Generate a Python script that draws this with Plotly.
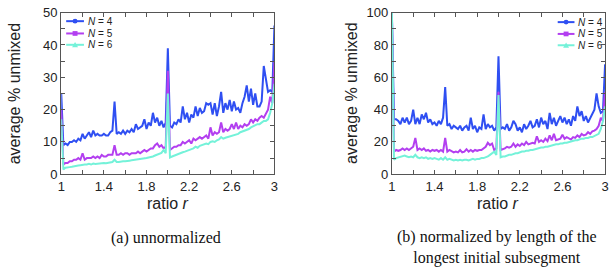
import plotly.graph_objects as go

# ---------------- data ----------------
RATIO = [round(1 + 0.02 * i, 2) for i in range(101)]

# (a) unnormalized
A_N4 = [25, 9, 9.5, 9, 10, 10, 10.5, 10, 11, 10.5,
        12.5, 11, 12, 13, 11.5, 13.5, 12, 12.5, 12, 12,
        12.5, 12, 12, 13, 13.5, 22.5, 12.5, 13, 12.5, 13.5,
        12.5, 13.5, 13, 14, 13, 15.5, 14, 14.5, 15, 17,
        14, 16, 15, 19, 16, 17.5, 15, 16.5, 14.5, 16,
        39, 15, 14.5, 16, 15.5, 17, 16, 21, 17, 19,
        16, 18.5, 17.5, 21, 18, 20.5, 19, 19.5, 22, 21.5,
        22, 18.5, 22, 18, 21, 25.5, 19, 22, 20, 23,
        19.5, 22.5, 20, 20.5, 19, 22, 24, 27.5, 22.5, 26.5,
        21.5, 25, 21, 21, 22.5, 33.5, 30, 25.5, 26, 25.5,
        46]
A_N5 = [20, 3, 3.5, 3.5, 4, 4, 4.5, 4.5, 5, 4.5,
        6.5, 4.5, 5, 5, 5, 5.5, 5, 5.5, 5, 6,
        5.5, 5.5, 6, 6, 6, 9, 6, 6, 6.5, 6,
        6.5, 6.5, 6, 6.5, 6.5, 6.5, 7, 6.5, 7, 7.5,
        7, 7.5, 8, 8, 9, 9.5, 8.5, 9, 8, 8.5,
        32, 7.5, 8, 8.5, 8.5, 9, 9, 10, 9.5, 10,
        10.5, 9.5, 11, 10.5, 11, 11.5, 11, 11.5, 12, 11,
        14.5, 12, 13, 12.5, 13, 16, 13, 14, 13.5, 14,
        15.5, 14, 16, 14, 15, 14.5, 15.5, 15, 15.5, 17,
        16, 17, 16.5, 17.5, 18, 17.5, 19, 20, 24, 22,
        35]
A_N6 = [17, 1.5, 2, 2, 2.2, 2.3, 2.5, 2.5, 2.7, 2.8,
        3, 3, 3, 3.2, 3, 3.3, 3.2, 3.3, 3.4, 3.5,
        3.5, 3.4, 3.6, 3.7, 3.8, 4.5, 3.8, 3.8, 4, 4,
        4, 4.2, 4.2, 4.3, 4.4, 4.3, 4.5, 4.6, 4.7, 4.8,
        5, 5.2, 5.3, 5.5, 5.8, 6, 6.2, 6.6, 7.5, 6.5,
        25, 5.2, 5.5, 5.8, 6, 6.2, 6.5, 6.8, 7, 7.2,
        7.5, 7.8, 8, 8.5, 8.2, 8.8, 9, 9.2, 9.5, 9.3,
        10, 10.2, 10, 10.5, 10.8, 11.5, 11, 11.3, 11.5, 11.8,
        12, 12.3, 12.5, 12.5, 13, 13.2, 13.5, 13.8, 14, 14.5,
        14.8, 15, 15.5, 15.5, 16, 16.5, 16.5, 17, 19, 22,
        28]

# (b) normalized by length of the longest initial subsegment
B_N4 = [100, 34, 34, 33, 31, 35, 32, 35, 31, 33,
        40, 31, 35, 31, 37, 34, 38, 32, 34, 31,
        32, 30, 33, 31, 35, 54, 30, 31, 28, 30,
        29, 28, 30, 27, 29, 30, 27, 35, 28, 30,
        26, 29, 28, 37, 28, 31, 29, 30, 27, 29,
        73, 28, 29, 28, 31, 27, 29, 33, 31, 27,
        29, 26, 31, 28, 30, 33, 29, 30, 34, 29,
        35, 31, 33, 28, 38, 31, 35, 30, 33, 36,
        32, 35, 31, 34, 30, 36, 33, 42, 36, 39,
        33, 36, 32, 35, 38, 40, 50, 42, 38, 39,
        68]
B_N5 = [100, 14, 15, 14.5, 15, 16, 15, 16, 15, 16,
        17, 22.5, 15, 16, 15, 16, 14.5, 15, 14, 15,
        14.5, 15, 14, 15, 14, 22.5, 14, 15, 14, 13.5,
        14, 13.5, 15, 13.5, 14, 15.5, 14, 15, 14, 15,
        14.5, 15, 15, 16, 17, 19.5, 18, 19, 15, 16,
        51, 15, 15.5, 16, 17, 16.5, 17, 19, 17, 18.5,
        17.5, 19, 18, 20, 18.5, 19, 19.5, 19, 23.5, 20,
        21, 20, 22, 20.5, 24, 21, 25, 21, 21.5, 22,
        24.5, 22, 23, 22, 21.5, 23, 22.5, 24, 23, 25,
        24, 24.5, 26, 25, 26.5, 27, 28, 30, 35, 33,
        51]
B_N6 = [100, 9, 10, 10.5, 11, 11, 11.5, 11, 10.5, 11,
        10.5, 12, 10.5, 10, 10.5, 10, 10.5, 9.5, 10, 9.5,
        10, 9.5, 9, 10, 9, 10.5, 9, 9.5, 9, 8.5,
        9, 8.5, 9, 8.5, 9, 9, 8.5, 9, 9.5, 9,
        9.5, 9.5, 10, 10, 10.5, 11, 12, 13, 14, 12,
        49, 10.5, 11, 11, 11.5, 12, 12, 12.5, 13, 13,
        13.5, 14, 14, 14.5, 14.5, 15, 15, 15.5, 16, 16,
        16.5, 16.5, 17, 17, 17.5, 18, 18, 18.5, 18.5, 19,
        19, 19.5, 19.5, 20, 20.5, 20.5, 21, 21, 21.5, 22,
        22, 22.5, 22.5, 23, 23, 23.5, 24, 25, 28, 33,
        42]

SERIES_NAMES = ["N = 4", "N = 5", "N = 6"]
LEGEND_TEXT = ["<i>N</i> = 4", "<i>N</i> = 5", "<i>N</i> = 6"]
X_TICKS = [1, 1.4, 1.8, 2.2, 2.6, 3]
X_TICK_TEXT = ["1", "1.4", "1.8", "2.2", "2.6", "3"]
YA_TICKS = [0, 10, 20, 30, 40, 50]
YB_TICKS = [0, 20, 40, 60, 80, 100]

COLORS = ["#2f4ff2", "#b33ff0", "#74f2d9"]

# ---------------- figure ----------------
W, H = 615, 272


def fx(px):
    return px / W


def fy(py):
    return 1 - py / H


fig = go.Figure()
panels = [("x", "y", [A_N4, A_N5, A_N6]), ("x2", "y2", [B_N4, B_N5, B_N6])]
for xa, ya, data in panels:
    for name, vals, col in zip(SERIES_NAMES, data, COLORS):
        fig.add_trace(go.Scatter(x=RATIO, y=vals, mode="lines", name=name,
                                 xaxis=xa, yaxis=ya, showlegend=False,
                                 line=dict(color=col, width=2)))

TICKFONT = dict(family="Liberation Sans, Arial, sans-serif", size=13, color="#222")
FRAME = "#555"

common_x = dict(range=[1, 3], tickvals=X_TICKS, ticktext=X_TICK_TEXT,
                ticks="inside", ticklen=4, tickcolor=FRAME, mirror="ticks",
                showline=True, linecolor=FRAME, linewidth=1.2, showgrid=False,
                zeroline=False, tickfont=TICKFONT, ticklabeloverflow="allow",
                minor=dict(dtick=0.2, ticks="inside", ticklen=4, tickcolor=FRAME))
common_y = dict(ticks="inside", ticklen=4, tickcolor=FRAME, mirror="ticks",
                showline=True, linecolor=FRAME, linewidth=1.2, showgrid=False,
                zeroline=False, tickfont=TICKFONT, ticklabeloverflow="allow")

yl = [fy(177), fy(6)]
fig.update_layout(
    width=W, height=H, margin=dict(l=0, r=0, t=0, b=0),
    paper_bgcolor="white", plot_bgcolor="white", showlegend=False,
    xaxis=dict(domain=[fx(58), fx(274)], anchor="y", **common_x),
    xaxis2=dict(domain=[fx(393), fx(609)], anchor="y2", **common_x),
    yaxis=dict(domain=yl, anchor="x", range=[0, 50], tickvals=YA_TICKS,
               minor=dict(dtick=5, ticks="inside", ticklen=4, tickcolor=FRAME),
               **common_y),
    yaxis2=dict(domain=yl, anchor="x2", range=[0, 100], tickvals=YB_TICKS,
                minor=dict(dtick=10, ticks="inside", ticklen=4, tickcolor=FRAME),
                **common_y),
)

TITLEFONT = dict(family="Liberation Sans, Arial, sans-serif", size=16, color="#222")
ann = []
for cx, ytx in [(166, 11), (501, 352)]:
    ann.append(dict(text="ratio <i>r</i>", x=fx(cx), y=fy(208), xref="paper", yref="paper",
                    xanchor="center", yanchor="middle", showarrow=False, font=TITLEFONT))
    ann.append(dict(text="average % unmixed", x=fx(ytx), y=fy(91.5), xref="paper",
                    yref="paper", xanchor="center", yanchor="middle", textangle=-90,
                    showarrow=False, font=TITLEFONT))

CAPFONT = dict(family="Liberation Serif, Times New Roman, serif", size=16, color="#111")
ann.append(dict(text="(a) unnormalized", x=fx(164), y=fy(244), xref="paper", yref="paper",
                xanchor="center", yanchor="middle", showarrow=False, font=CAPFONT))
ann.append(dict(text="(b) normalized by length of the<br>longest initial subsegment",
                x=fx(500), y=fy(255), xref="paper", yref="paper", xanchor="center",
                yanchor="middle", align="center", showarrow=False, font=CAPFONT))

# legends (drawn as layout decoration)
LEGFONT = dict(family="Liberation Sans, Arial, sans-serif", size=10, color="#222")
shapes = []
legend_specs = [(63, 81, 83, [15, 28, 40]), (561, 578, 580, [16, 28.5, 40.5])]
for x0, x1, xt, rows in legend_specs:
    xm = (x0 + x1) / 2
    for i, (ry, col, txt) in enumerate(zip(rows, COLORS, LEGEND_TEXT)):
        shapes.append(dict(type="line", xref="paper", yref="paper", x0=fx(x0), x1=fx(x1),
                           y0=fy(ry), y1=fy(ry), line=dict(color=col, width=2)))
        if i == 0:
            shapes.append(dict(type="circle", xref="paper", yref="paper",
                               x0=fx(xm - 2.5), x1=fx(xm + 2.5), y0=fy(ry - 2.5), y1=fy(ry + 2.5),
                               fillcolor=col, line=dict(width=0)))
        elif i == 1:
            shapes.append(dict(type="rect", xref="paper", yref="paper",
                               x0=fx(xm - 2.5), x1=fx(xm + 2.5), y0=fy(ry - 2.5), y1=fy(ry + 2.5),
                               fillcolor=col, line=dict(width=0)))
        else:
            path = "M {:.5f} {:.5f} L {:.5f} {:.5f} L {:.5f} {:.5f} Z".format(
                fx(xm - 3), fy(ry + 2.5), fx(xm + 3), fy(ry + 2.5), fx(xm), fy(ry - 3))
            shapes.append(dict(type="path", xref="paper", yref="paper", path=path,
                               fillcolor=col, line=dict(width=0)))
        ann.append(dict(text=txt, x=fx(xt), y=fy(ry), xref="paper", yref="paper",
                        xanchor="left", yanchor="middle", showarrow=False, font=LEGFONT))

fig.update_layout(annotations=ann, shapes=shapes)
fig.write_html("out.html", config={"displayModeBar": False},
               post_script="document.body.style.margin='0';document.body.style.overflow='hidden';")
